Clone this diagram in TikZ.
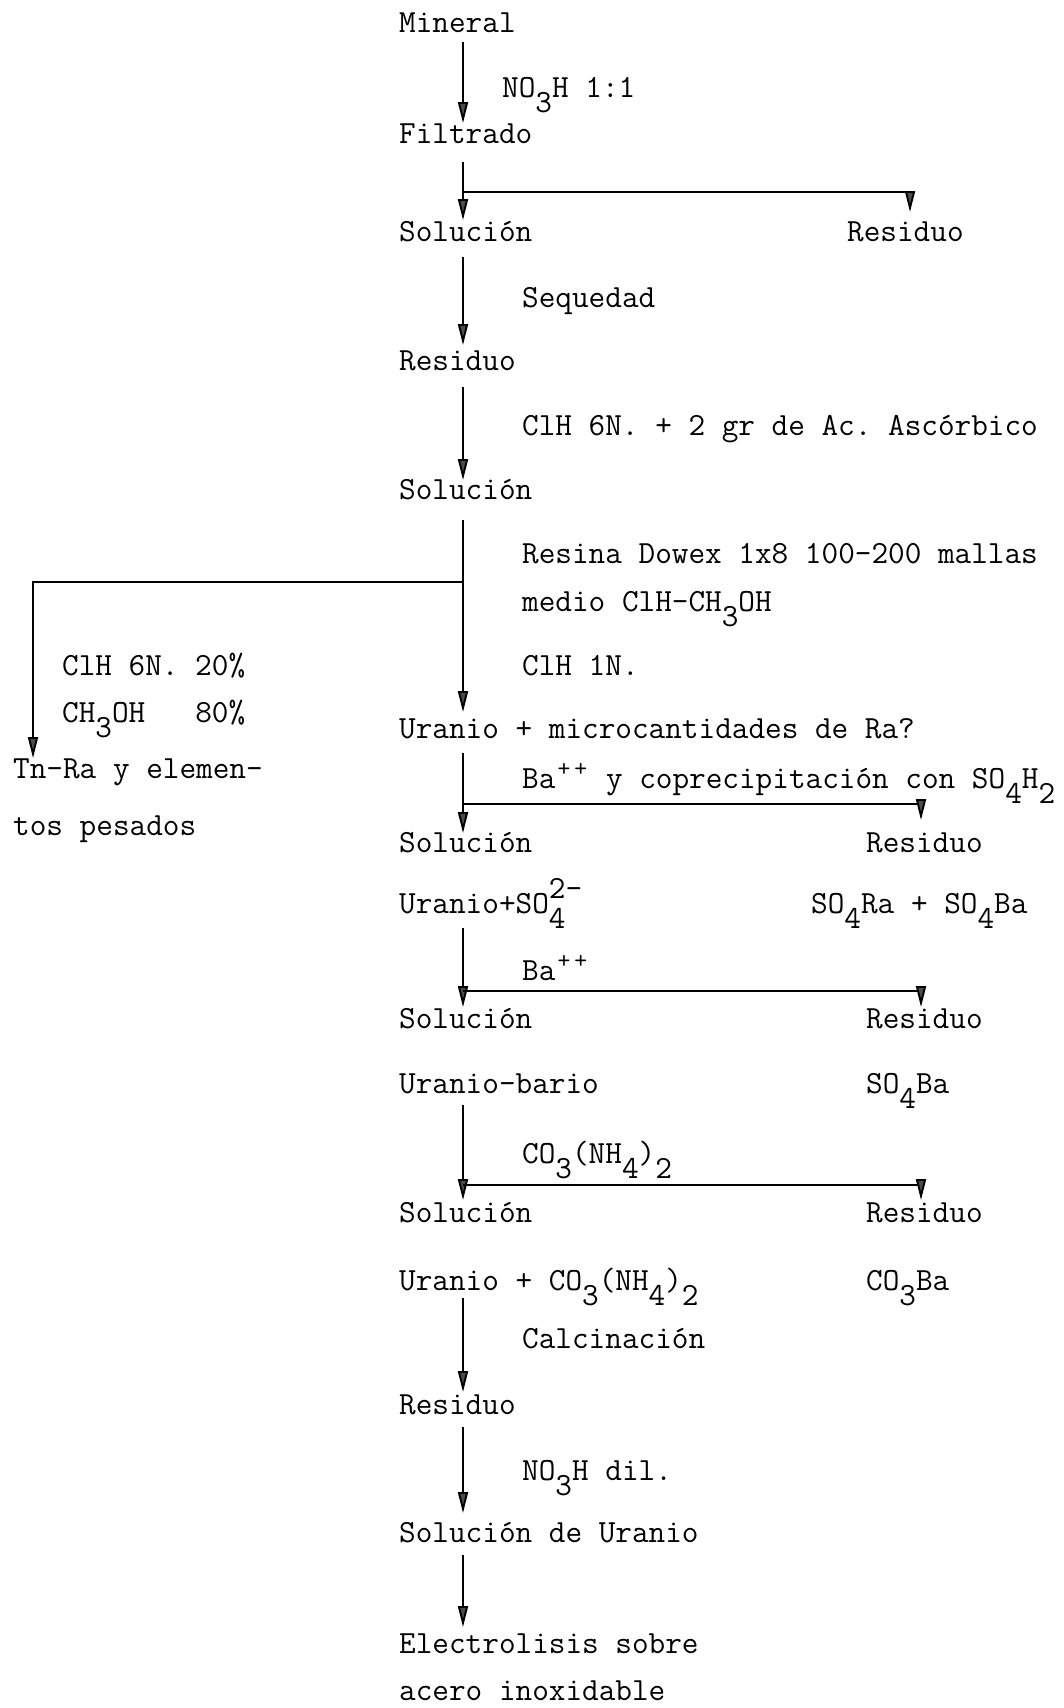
\documentclass[tikz,border=0pt]{standalone}
\usepackage{fontspec}
\usetikzlibrary{arrows.meta,calc}
\newcommand\lo[1]{\raisebox{-15pt}{#1}}
\newcommand\hi[1]{\raisebox{15pt}{#1}}
\newcommand\pl{\makebox[0.525em]{\raisebox{12pt}{\fontsize{25}{25}\selectfont +}}}
\begin{document}
\frenchspacing
\begin{tikzpicture}[x=1pt,y=-1pt,
  txt/.style={anchor=base west,inner sep=0pt,font=\fontsize{32.3}{36}\selectfont\ttfamily\frenchspacing},
  arr/.style={line width=1.9pt,-{Triangle[length=21pt,width=10pt,fill=black!70]}},
  ln/.style={line width=1.9pt}]
\useasboundingbox (0,0) rectangle (1064,1708);
\fill[white] (0,0) rectangle (1064,1708);
\coordinate (X) at (463,0);
\coordinate (XL) at (33,0);
\coordinate (XR1) at (910,0);
\coordinate (XR) at (921,0);
% main column
\node[txt] (mineral) at (399,32) {Mineral};
\node[txt] (l1) at (502,97) {NO\lo{3}H 1:1};
\node[txt] (filtrado) at (399,143) {Filtrado};
\node[txt] (sol1) at (399,241) {Solución};
\node[txt] (res1) at (847,241) {Residuo};
\node[txt] (l2) at (522,307) {Sequedad};
\node[txt] (res2) at (399,370) {Residuo};
\node[txt] (l3) at (522,435) {ClH 6N. + 2 gr de Ac. Ascórbico};
\node[txt] (sol2) at (399,499) {Solución};
\node[txt] (l4a) at (522,563) {Resina Dowex 1x8 100-200 mallas};
\node[txt] (l4b) at (522,611) {medio ClH-CH\lo{3}OH};
\node[txt] (l4c) at (522,675) {ClH 1N.};
\node[txt] (uran1) at (399,738) {Uranio + microcantidades de Ra?};
\node[txt] (l5) at (522,788) {Ba\pl\pl{} y coprecipitación con SO\lo{4}H\lo{2}};
\node[txt] (sol3) at (399,852) {Solución};
\node[txt] (res3) at (866,852) {Residuo};
\node[txt] (uran2) at (399,913) {Uranio+SO\rlap{\lo{4}}\hi{2-}};
\node[txt] (so4) at (811,913) {SO\lo{4}Ra + SO\lo{4}Ba};
\node[txt] (l6) at (522,980) {Ba\pl\pl};
\node[txt] (sol4) at (399,1028) {Solución};
\node[txt] (res4) at (866,1028) {Residuo};
\node[txt] (uran3) at (399,1093) {Uranio-bario};
\node[txt] (so4ba) at (866,1093) {SO\lo{4}Ba};
\node[txt] (l7) at (522,1163) {CO\lo{3}(NH\lo{4})\lo{2}};
\node[txt] (sol5) at (399,1222) {Solución};
\node[txt] (res5) at (866,1222) {Residuo};
\node[txt] (uran4) at (399,1290) {Uranio + CO\lo{3}(NH\lo{4})\lo{2}};
\node[txt] (co3ba) at (866,1290) {CO\lo{3}Ba};
\node[txt] (l8) at (522,1348) {Calcinación};
\node[txt] (res6) at (399,1414) {Residuo};
\node[txt] (l9) at (522,1480) {NO\lo{3}H dil.};
\node[txt] (solU) at (399,1542) {Solución de Uranio};
\node[txt] (elec1) at (399,1653) {Electrolisis sobre};
\node[txt] (elec2) at (399,1700) {acero inoxidable};
% left branch
\node[txt] (ll1) at (62,675) {ClH 6N. 20\%};
\node[txt] (ll2) at (62,722) {CH\lo{3}OH\ \ \ 80\%};
\node[txt] (th1) at (13,778) {Tn-Ra y elemen-};
\node[txt] (th2) at (13,835) {tos pesados};
% arrows
\draw[arr] ($(mineral.base -| X)+(0,10)$) -- ($(filtrado.base -| X)+(0,-20)$);
\draw[arr] ($(filtrado.base -| X)+(0,19)$) -- ($(sol1.base -| X)+(0,-21)$);
\draw[arr] ($(filtrado.base -| X)+(0,49)$) -| ($(res1.base -| XR1)+(0,-29)$);
\draw[arr] ($(sol1.base -| X)+(0,16)$) -- ($(res2.base -| X)+(0,-25)$);
\draw[arr] ($(res2.base -| X)+(0,17)$) -- ($(sol2.base -| X)+(0,-19)$);
\draw[arr] ($(sol2.base -| X)+(0,21)$) -- ($(uran1.base -| X)+(0,-26)$);
\draw[arr] ($(sol2.base -| X)+(0,83)$) -| ($(th1.base -| XL)+(0,-20)$);
\draw[arr] ($(uran1.base -| X)+(0,15)$) -- ($(sol3.base -| X)+(0,-19)$);
\draw[arr] ($(uran1.base -| X)+(0,66)$) -| ($(res3.base -| XR)+(0,-32)$);
\draw[arr] ($(uran2.base -| X)+(0,15)$) -- ($(sol4.base -| X)+(0,-21)$);
\draw[arr] ($(uran2.base -| X)+(0,78)$) -| ($(res4.base -| XR)+(0,-21)$);
\draw[arr] ($(uran3.base -| X)+(0,12)$) -- ($(sol5.base -| X)+(0,-22)$);
\draw[arr] ($(uran3.base -| X)+(0,92)$) -| ($(res5.base -| XR)+(0,-22)$);
\draw[arr] ($(uran4.base -| X)+(0,8)$) -- ($(res6.base -| X)+(0,-22)$);
\draw[arr] ($(res6.base -| X)+(0,13)$) -- ($(solU.base -| X)+(0,-29)$);
\draw[arr] ($(solU.base -| X)+(0,13)$) -- ($(elec1.base -| X)+(0,-26)$);
\end{tikzpicture}
\end{document}
